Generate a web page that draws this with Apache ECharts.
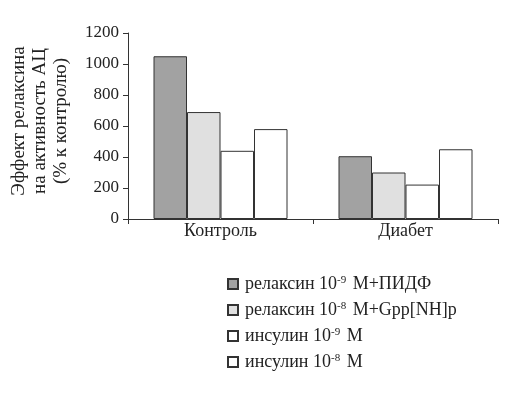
<!DOCTYPE html>
<html><head><meta charset="utf-8">
<script src="https://cdn.jsdelivr.net/npm/echarts@6/dist/echarts.min.js"></script>
<style>html,body{margin:0;padding:0;background:#fff}#c{width:513px;height:396px}</style>
</head><body><div id="c"></div>
<script>
const categories = ['Контроль', 'Диабет'];
const relaxin9 = [1050, 405];
const relaxin8 = [690, 300];
const insulin9 = [440, 222];
const insulin8 = [580, 450];
const yTicks = [0, 200, 400, 600, 800, 1000, 1200];
const seriesNames = ['релаксин 10-9 М+ПИДФ', 'релаксин 10-8 М+Gpp[NH]p', 'инсулин 10-9 М', 'инсулин 10-8 М'];
const legendRich = {
  'релаксин 10-9 М+ПИДФ': 'релаксин 10{s|-9} М+ПИДФ',
  'релаксин 10-8 М+Gpp[NH]p': 'релаксин 10{s|-8} М+Gpp[NH]p',
  'инсулин 10-9 М': 'инсулин 10{s|-9} М',
  'инсулин 10-8 М': 'инсулин 10{s|-8} М'
};
const yTitle = ['Эффект релаксина', 'на активность АЦ', '(% к контролю)'];

const font = 'Liberation Serif';
const chart = echarts.init(document.getElementById('c'), null, {renderer: 'canvas'});
const colors = ['#a2a2a2', '#e0e0e0', '#ffffff', '#ffffff'];
const datas = [relaxin9, relaxin8, insulin9, insulin8];
chart.setOption({
  animation: false,
  backgroundColor: '#fff',
  textStyle: {fontFamily: font},
  grid: {left: 128, right: 15, top: 33, bottom: 177, containLabel: false},
  xAxis: {
    type: 'category', data: categories,
    axisLine: {lineStyle: {color: '#333', width: 1}},
    axisTick: {show: true, alignWithLabel: false, length: 5, lineStyle: {color: '#333'}},
    axisLabel: {color: '#222', fontSize: 18, fontFamily: font, margin: 3}
  },
  yAxis: {
    type: 'value', min: 0, max: 1200, interval: 200,
    axisLine: {show: true, lineStyle: {color: '#333', width: 1}},
    axisTick: {show: true, length: 5, lineStyle: {color: '#333'}},
    splitLine: {show: false},
    axisLabel: {color: '#222', fontSize: 17, fontFamily: font, margin: 9,
      formatter: v => yTicks.includes(v) ? String(v) : ''}
  },
  legend: {
    orient: 'vertical', left: 222, top: 270, itemGap: 8,
    itemWidth: 10, itemHeight: 10, icon: 'rect',
    data: seriesNames,
    formatter: n => legendRich[n],
    textStyle: {color: '#222', fontSize: 18, fontFamily: font, padding: [0, 0, 0, 2],
      rich: {s: {fontSize: 11, fontFamily: font, color: '#222', verticalAlign: 'top', padding: [0, 2, 7, 0]}}}
  },
  graphic: [{
    type: 'text', x: 40.5, y: 121, rotation: Math.PI / 2,
    style: {text: yTitle.join('\n'), font: '19px "Liberation Serif"', fill: '#222',
      align: 'center', verticalAlign: 'middle', lineHeight: 21}
  }],
  series: seriesNames.map((n, i) => ({
    name: n, type: 'bar', data: datas[i], barWidth: 33.5, barGap: '0%',
    itemStyle: {color: colors[i], borderColor: '#333', borderWidth: 1}
  }))
});
</script></body></html>
